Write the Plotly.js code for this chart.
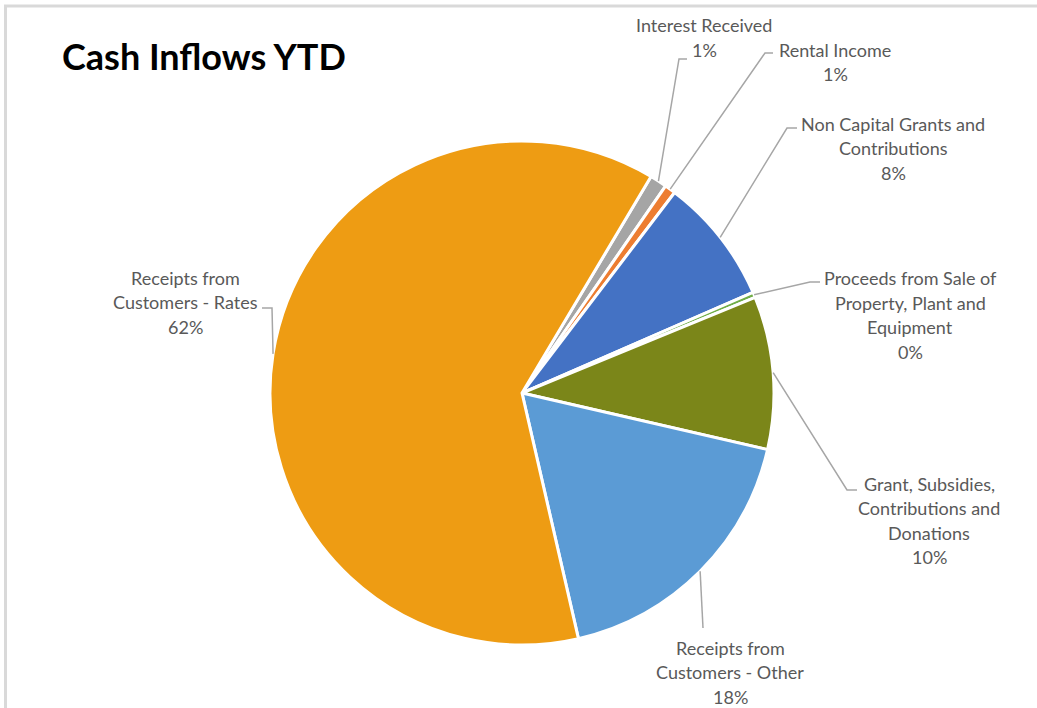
<!DOCTYPE html>
<html><head><meta charset="utf-8">
<script src="https://cdn.plot.ly/plotly-3.0.1.min.js"></script>
<style>html,body{margin:0;padding:0;background:#fff}#chart{width:1037px;height:708px}</style>
</head><body><div id="chart"></div>
<script>
// ---- data ----
const categories = ['Interest Received', 'Rental Income', 'Non Capital Grants and Contributions',
  'Proceeds from Sale of Property, Plant and Equipment', 'Grant, Subsidies, Contributions and Donations',
  'Receipts from Customers - Other', 'Receipts from Customers - Rates'];
const labelLines = [['Interest Received'], ['Rental Income'], ['Non Capital Grants and', 'Contributions'],
  ['Proceeds from Sale of', 'Property, Plant and', 'Equipment'], ['Grant, Subsidies,', 'Contributions and', 'Donations'],
  ['Receipts from', 'Customers - Other'], ['Receipts from', 'Customers - Rates']];
const shares = [1.1, 0.7, 8.1, 0.35, 9.8, 17.8, 62.15];
const colors = ['#a5a5a5', '#ed7d31', '#4472c4', '#70ad47', '#7b8619', '#5b9bd5', '#ee9c13'];

// ---- layout (pixels) ----
const W = 1037, H = 708;
const CX = 522, CY = 393, R = 252;
const START = 30.8;
const labelCenters = [[704, 37.5], [835, 62], [893, 148], [910, 315], [929, 520.5], [730, 672], [185, 302.5]];
const leaderAnchor = [[687, 59], [773, 53], [797, 128], [820, 282], [857, 490], [703, 628], [262, 308]];
const leaderElbow = [[679, 59], [765, 53], [787, 128], [810, 282], [847, 490], [703, 628], [272, 308]];
const LINE_H = 24.5;

const px = x => x / W, py = y => 1 - y / H;
const total = shares.reduce((a, b) => a + b, 0);

const annotations = [];
const shapes = [];
let acc = 0;
shares.forEach((v, i) => {
  const mid = (START + (acc + v / 2) / total * 360) * Math.PI / 180;
  acc += v;
  const ex = CX + R * Math.sin(mid), ey = CY - R * Math.cos(mid);
  const pts = [leaderAnchor[i], leaderElbow[i], [ex, ey]];
  const path = pts.map((p, k) => (k ? 'L' : 'M') + px(p[0]).toFixed(5) + ',' + py(p[1]).toFixed(5)).join(' ');
  shapes.push({type: 'path', xref: 'paper', yref: 'paper', path: path, line: {color: '#a6a6a6', width: 1.5}});
  const lines = labelLines[i].concat([Math.round(v / total * 100) + '%']);
  const n = lines.length;
  lines.forEach((t, j) => {
    annotations.push({
      xref: 'paper', yref: 'paper', x: px(labelCenters[i][0]), y: py(labelCenters[i][1] + (j - (n - 1) / 2) * LINE_H),
      xanchor: 'center', yanchor: 'middle', showarrow: false, text: t,
      font: {family: 'Lato, sans-serif', size: 18, color: '#595959'}
    });
  });
});

// chart frame
shapes.push({type: 'line', xref: 'paper', yref: 'paper', x0: px(4), x1: 1, y0: py(6), y1: py(6), line: {color: '#d9d9d9', width: 3}});
shapes.push({type: 'line', xref: 'paper', yref: 'paper', x0: px(5.5), x1: px(5.5), y0: py(5), y1: 0, line: {color: '#d9d9d9', width: 3}});

const trace = {
  type: 'pie', labels: categories, values: shares, sort: false, direction: 'clockwise', rotation: START,
  marker: {colors: colors, line: {color: '#ffffff', width: 3}},
  textinfo: 'none', hoverinfo: 'none',
  domain: {x: [(CX - R) / W, (CX + R) / W], y: [1 - (CY + R) / H, 1 - (CY - R) / H]}
};

const layout = {
  width: W, height: H, margin: {l: 0, r: 0, t: 0, b: 0},
  paper_bgcolor: '#ffffff', showlegend: false,
  title: {text: '<b>Cash Inflows YTD</b>', x: px(62), xanchor: 'left', xref: 'paper', y: py(57), yanchor: 'middle', yref: 'paper',
    font: {family: 'Lato, sans-serif', size: 36, color: '#000000'}},
  annotations: annotations, shapes: shapes
};
Plotly.newPlot('chart', [trace], layout, {displayModeBar: false, staticPlot: true});
</script></body></html>
